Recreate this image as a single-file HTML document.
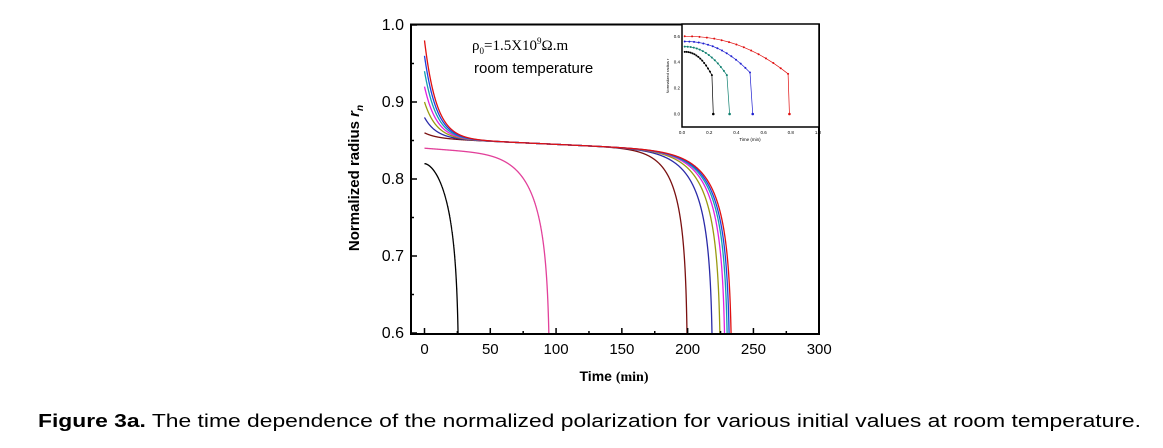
<!DOCTYPE html>
<html><head><meta charset="utf-8"><style>
body{margin:0;background:#fff;width:1163px;height:443px;overflow:hidden;font-family:"Liberation Sans",Arial,sans-serif}
</style></head><body>
<svg id="s" width="1163" height="443" xmlns="http://www.w3.org/2000/svg" font-family="Liberation Sans, Arial, sans-serif">
<defs><clipPath id="c"><rect x="411" y="24" width="408" height="310"/></clipPath></defs>
<g id="curves" clip-path="url(#c)"></g>
<rect x="411" y="24.5" width="408" height="309.5" fill="none" stroke="#000" stroke-width="2"/>
<g id="ticks" stroke="#000" stroke-width="1.5"></g>
<g font-size="16" fill="#000" text-anchor="end">
<text x="404" y="30">1.0</text><text x="404" y="107">0.9</text><text x="404" y="184">0.8</text><text x="404" y="261">0.7</text><text x="404" y="338">0.6</text>
</g>
<g font-size="15" fill="#000" text-anchor="middle" id="xl"></g>
<text x="614" y="381" font-size="14" font-weight="bold" text-anchor="middle">Time <tspan font-family="Liberation Serif,serif">(min)</tspan></text>
<text transform="translate(359,178) rotate(-90)" font-size="15" font-weight="bold" text-anchor="middle">Normalized radius <tspan font-style="italic">r</tspan><tspan font-style="italic" font-size="10" dy="4">n</tspan></text>
<text x="472" y="50" font-size="15" font-family="Liberation Serif,serif">ρ<tspan font-size="9" dy="4">0</tspan><tspan dy="-4">=1.5X10</tspan><tspan font-size="9" dy="-6">9</tspan><tspan dy="6">Ω.m</tspan></text>
<text x="474" y="73" font-size="15">room temperature</text>
<g id="inset"></g>
<text x="38" y="427" font-size="18" textLength="1103" lengthAdjust="spacingAndGlyphs"><tspan font-weight="bold">Figure 3a.</tspan> The time dependence of the normalized polarization for various initial values at room temperature.</text>
</svg>
<script>
var NS="http://www.w3.org/2000/svg";
function el(p,t,a){var e=document.createElementNS(NS,t);for(var k in a)e.setAttribute(k,a[k]);p.appendChild(e);return e;}
function X(t){return 424.5+t*1.3157;}
function Y(r){return 25+(1-r)*770;}
var tk=document.getElementById('ticks'),xl=document.getElementById('xl');
for(var t=0;t<=300;t+=25){var L=t%50==0?6:3;el(tk,'line',{x1:X(t),x2:X(t),y1:334,y2:334-L});if(t%50==0){var tx=el(xl,'text',{x:X(t),y:354});tx.textContent=t;}}
for(var r=0.6;r<=1.0001;r+=0.05){var L=Math.round(r*100)%10==0?6:3;el(tk,'line',{x1:411,x2:411+L,y1:Y(r),y2:Y(r)});}
var cs=[["#000",0.82,25.5,1.8],["#e2409a",0.84,94.5,5],["#7a1010",0.86,199.5,14],["#2a2aa8",0.88,218.5,12],["#9a9a10",0.90,224.5,12],["#e020e0",0.92,228,12],["#10a0b0",0.94,230,12],["#2040e0",0.96,231.5,12],["#e01010",0.98,233,12]];
var g=document.getElementById('curves');var Q=0.1;
function base(r0,t){if(r0>0.853)return 0.853-0.00008*t+(r0-0.853)*Math.exp(-t/9);return r0-0.00013*t;}
cs.forEach(function(c){var r0=c[1],tc=c[2],p=c[3];var gc=base(r0,tc);var xp=1-Math.pow(0.6/gc,1/Q);var T=tc/Math.pow(xp,1/p);
var d="";for(var i=0;i<=2000;i++){var t=T*i/2000;var v=base(r0,t)*Math.pow(Math.max(0,1-Math.pow(t/T,p)),Q);d+=(i?"L":"M")+X(t).toFixed(2)+","+Y(v).toFixed(2);if(v<0.59)break;}
el(g,'path',{d:d,fill:"none",stroke:c[0],"stroke-width":1.3});});
var ins=document.getElementById('inset');
function IX(t){return 682+t*136;}function IY(v){return 114-v*129.5;}
el(ins,'rect',{x:682,y:24,width:137,height:103,fill:"#fff",stroke:"#000","stroke-width":1.5});
var sr=[["#e01010",0.6,0.31,0.78,0.79],["#2020d0",0.56,0.32,0.5,0.52],["#108070",0.52,0.30,0.33,0.35],["#000",0.48,0.30,0.22,0.23]];
sr.forEach(function(s){var d="",n=14;for(var i=0;i<=n;i++){var t=0.02+(s[3]-0.02)*i/n;var f=(t-0.02)/(s[3]-0.02);var v=s[1]-(s[1]-s[2])*Math.pow(f,2.2);d+=(i?"L":"M")+IX(t)+","+IY(v);el(ins,'circle',{cx:IX(t),cy:IY(v),r:1,fill:s[0]});}
d+="L"+IX(s[4])+","+IY(0);el(ins,'circle',{cx:IX(s[4]),cy:IY(0),r:1.3,fill:s[0]});el(ins,'path',{d:d,fill:"none",stroke:s[0],"stroke-width":0.7});});
[0,0.2,0.4,0.6,0.8,1.0].forEach(function(t){var tx=el(ins,'text',{x:IX(t),y:134,"font-size":4.5,"text-anchor":"middle"});tx.textContent=t.toFixed(1);});
[0,0.2,0.4,0.6].forEach(function(v){var tx=el(ins,'text',{x:680,y:IY(v)+1.5,"font-size":4.5,"text-anchor":"end"});tx.textContent=v.toFixed(1);});
var tt=el(ins,'text',{x:750,y:141,"font-size":4.5,"text-anchor":"middle"});tt.textContent="Time (min)";
var yl=el(ins,'text',{transform:"translate(669,76) rotate(-90)","font-size":4,"text-anchor":"middle"});yl.textContent="Normalized radius r";
</script>
</body></html>
